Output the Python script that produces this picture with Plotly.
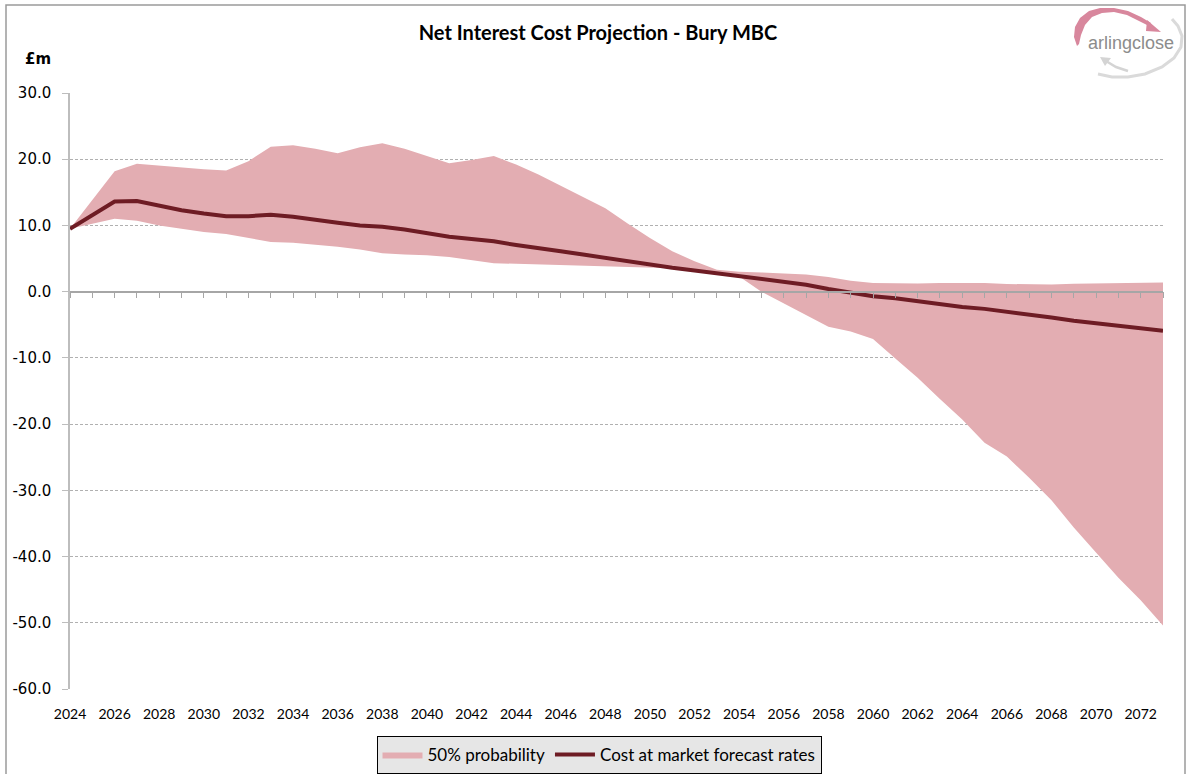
import plotly.graph_objects as go

# ---------------- data ----------------
years = list(range(2024, 2074))

central = [9.5, 11.5, 13.6, 13.7, 13.0, 12.3, 11.8, 11.4, 11.4, 11.6,
           11.3, 10.8, 10.4, 10.0, 9.8, 9.4, 8.8, 8.3, 7.95, 7.6,
           7.05, 6.5, 6.1, 5.6, 5.1, 4.6, 4.0, 3.6, 3.2, 2.75,
           2.3, 1.95, 1.55, 1.05, 0.4, -0.2, -0.7, -1.0, -1.45, -1.9,
           -2.3, -2.6, -3.0, -3.4, -3.9, -4.4, -4.8, -5.2, -5.5, -5.9]

upper = [9.5, 13.8, 18.2, 19.3, 19.0, 18.8, 18.5, 18.3, 19.7, 21.9,
         22.1, 21.6, 20.9, 21.8, 22.4, 21.6, 20.5, 19.4, 19.9, 20.5,
         19.2, 17.7, 16.0, 14.3, 12.6, 10.3, 8.1, 6.1, 4.6, 3.3,
         3.0, 2.9, 2.8, 2.6, 2.2, 1.65, 1.3, 1.25, 1.25, 1.3,
         1.35, 1.3, 1.15, 1.1, 1.1, 1.2, 1.25, 1.3, 1.4, 1.4]

lower = [9.5, 10.2, 11.0, 10.7, 10.0, 9.5, 9.0, 8.7, 8.1, 7.5,
         7.4, 7.15, 6.8, 6.35, 5.8, 5.6, 5.5, 5.25, 4.8, 4.3,
         4.2, 4.1, 4.05, 4.0, 3.9, 3.8, 3.7, 3.55, 3.3, 2.8,
         2.3, 0.0, -1.8, -3.6, -5.3, -6.0, -7.15, -10.1, -13.0, -16.2,
         -19.3, -22.8, -24.9, -28.1, -31.5, -35.6, -39.4, -43.2, -46.6, -50.4]

y_tick_vals = [30, 20, 10, 0, -10, -20, -30, -40, -50, -60]
y_tick_text = ["30.0", "20.0", "10.0", "0.0", "-10.0", "-20.0", "-30.0", "-40.0", "-50.0", "-60.0"]

title_text = "Net Interest Cost Projection - Bury MBC"
band_name = "50% probability"
line_name = "Cost at market forecast rates"

# ---------------- styles ----------------
W, H = 1187, 774
L, R, T, B = 70, 24, 93, 85
PW, PH = W - L - R, H - T - B

BAND = "#e3adb2"
LINE = "#6e1c24"
GRID = "#b0b0b0"
AXIS = "#a6a6a6"


def px(x, y):
    """pixel -> paper coordinates"""
    return (x - L) / PW, (H - B - y) / PH


def path(points, close=False):
    parts = []
    for i, (x, y) in enumerate(points):
        u, v = px(x, y)
        parts.append(("M" if i == 0 else "L") + f"{u:.5f},{v:.5f}")
    s = " ".join(parts)
    return s + (" Z" if close else "")


fig = go.Figure()

fig.add_trace(go.Scatter(
    x=years, y=lower, mode="lines", line=dict(width=0, color=BAND),
    showlegend=False, hoverinfo="skip"))
fig.add_trace(go.Scatter(
    x=years, y=upper, mode="lines", line=dict(width=0, color=BAND),
    fill="tonexty", fillcolor=BAND, name=band_name))
fig.add_trace(go.Scatter(
    x=years, y=central, mode="lines", xaxis="x2",
    line=dict(width=4, color=LINE), name=line_name))

zero_pos = (0 - (-60)) / 90.0

fig.update_layout(
    width=W, height=H,
    margin=dict(l=L, r=R, t=T, b=B, autoexpand=False),
    paper_bgcolor="white", plot_bgcolor="white",
    title=dict(text="<b>" + title_text + "</b>", x=598 / W, xref="container",
               xanchor="center", y=1 - 33 / H, yref="container", yanchor="middle",
               font=dict(family="Lato", size=20, color="#000000")),
    xaxis=dict(range=[2024, 2073], tick0=2024, dtick=2, showgrid=False,
               zeroline=False, showline=False, ticks="",
               tickfont=dict(family="Lato", size=14, color="#000000"),
               ticklabelstandoff=15),
    xaxis2=dict(range=[2024, 2073], overlaying="x", anchor="free",
                position=zero_pos, side="bottom", showgrid=False, zeroline=False,
                showline=True, linecolor=AXIS, linewidth=1.5,
                ticks="outside", ticklen=6, tickcolor=AXIS, tickwidth=1,
                tick0=2024, dtick=1, showticklabels=False),
    yaxis=dict(range=[-60, 30], tickvals=y_tick_vals, ticktext=y_tick_text,
               showgrid=True, gridcolor=GRID, griddash="3px,2px", gridwidth=1,
               zeroline=False, showline=True, linecolor="#bdbdbd", linewidth=1.5,
               ticks="outside", ticklen=6, tickcolor="#bdbdbd",
               tickfont=dict(family="DejaVu Sans", size=15, color="#000000"),
               ticklabelstandoff=8),
    legend=dict(orientation="h", x=599 / W, xref="container", xanchor="center",
                y=1 - 736 / H, yref="container", yanchor="top",
                bgcolor="#e6e6e6", bordercolor="#000000", borderwidth=1,
                font=dict(family="Lato", size=17, color="#000000"),
                traceorder="normal", itemwidth=40, tracegroupgap=0),
    showlegend=True,
)

# £m label
fig.add_annotation(text="<b>£m</b>", x=px(38, 59)[0], y=px(38, 59)[1],
                   xref="paper", yref="paper", showarrow=False,
                   xanchor="center", yanchor="middle",
                   font=dict(family="DejaVu Sans", size=15, color="#000000"))

# outer chart border
bx0, by0 = px(6, 790)
bx1, by1 = px(1185, 5)
fig.add_shape(type="rect", xref="paper", yref="paper", x0=bx0, y0=by0, x1=bx1, y1=by1,
              line=dict(color="#9a9a9a", width=1.5), fillcolor="rgba(0,0,0,0)", layer="above")

# logo: pink crescent with arrow
pink_outer = [(1077, 46), (1074, 37), (1075, 27), (1080, 18), (1089, 11), (1100, 8),
              (1114, 8), (1128, 11), (1141, 17), (1151, 23)]
pink_inner = [(1149, 26), (1139, 21), (1127, 15), (1114, 12), (1102, 13), (1092, 17),
              (1085, 25), (1081, 35), (1079, 44)]
fig.add_shape(type="path", xref="paper", yref="paper",
              path=path(pink_outer + pink_inner, close=True),
              fillcolor="#d8879d", line=dict(width=0), layer="above")
fig.add_shape(type="path", xref="paper", yref="paper",
              path=path([(1147, 20), (1161, 32), (1146, 31)], close=True),
              fillcolor="#d8879d", line=dict(width=0), layer="above")
# grey arc
fig.add_shape(type="path", xref="paper", yref="paper",
              path=path([(1098, 74), (1112, 77), (1128, 77), (1145, 74), (1162, 67),
                         (1174, 58), (1181, 47), (1182, 36), (1178, 26), (1172, 19)]),
              line=dict(color="#dadada", width=3), layer="above")
fig.add_shape(type="path", xref="paper", yref="paper",
              path=path([(1106, 61), (1116, 67), (1128, 71)]),
              line=dict(color="#d4d4d4", width=2.5), layer="above")
fig.add_shape(type="path", xref="paper", yref="paper",
              path=path([(1100, 57), (1111, 58), (1105, 66)], close=True),
              fillcolor="#d4d4d4", line=dict(width=0), layer="above")
fig.add_annotation(text="arlingclose", x=px(1131, 43)[0], y=px(1131, 43)[1],
                   xref="paper", yref="paper", showarrow=False,
                   xanchor="center", yanchor="middle",
                   font=dict(family="Liberation Sans", size=18, color="#8c8c8c"))

fig.write_html("out.html", config={"displayModeBar": False},
               post_script="document.body.style.margin='0px';")
